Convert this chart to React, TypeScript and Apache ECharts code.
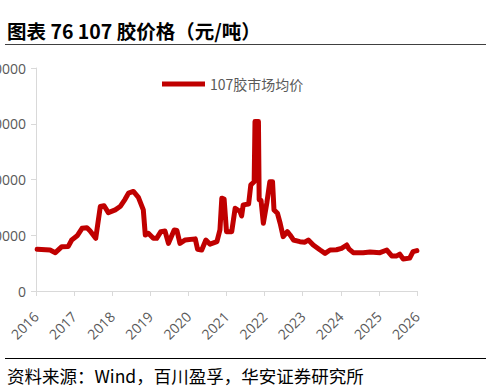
import React, { useEffect, useRef } from "react";
import * as echarts from "echarts";

const TITLE = "图表 76 107 胶价格（元/吨）";
const SOURCE = "资料来源：Wind，百川盈孚，华安证券研究所";
const SERIES_NAME = "107胶市场均价";

const yearTicks = [2016, 2017, 2018, 2019, 2020, 2021, 2022, 2023, 2024, 2025, 2026];

const dates = [
  "2016-01-12", "2016-05-15", "2016-07-05", "2016-09-05", "2016-11-06", "2016-12-09",
  "2017-01-30", "2017-03-18", "2017-05-04", "2017-06-02", "2017-07-27", "2017-09-09",
  "2017-10-15", "2017-11-25", "2018-01-30", "2018-03-18", "2018-05-04", "2018-06-06",
  "2018-07-23", "2018-09-09", "2018-10-26", "2018-11-14", "2018-12-13", "2019-01-30",
  "2019-03-03", "2019-04-12", "2019-05-22", "2019-06-24", "2019-08-18", "2019-09-13",
  "2019-10-12", "2019-12-02", "2020-03-07", "2020-03-29", "2020-05-08", "2020-06-17",
  "2020-07-27", "2020-10-01", "2020-10-30", "2020-11-17", "2020-12-09", "2021-01-01",
  "2021-02-20", "2021-03-25", "2021-05-11", "2021-05-26", "2021-06-10", "2021-08-01",
  "2021-08-22", "2021-09-23", "2021-10-01", "2021-11-03", "2021-11-10", "2021-11-28",
  "2021-12-20", "2022-01-22", "2022-02-20", "2022-03-18", "2022-04-01", "2022-05-04",
  "2022-05-30", "2022-06-28", "2022-08-07", "2022-09-02", "2022-10-04", "2022-12-05",
  "2023-01-22", "2023-02-24", "2023-04-12", "2023-06-17", "2023-08-03", "2023-09-20",
  "2023-11-21", "2024-01-08", "2024-02-27", "2024-03-21", "2024-04-30", "2024-08-03",
  "2024-10-08", "2025-01-11", "2025-03-18", "2025-05-04", "2025-06-21", "2025-07-20",
  "2025-08-22", "2025-10-23", "2025-11-24", "2025-12-31",
];

const prices = [
  15000, 14700, 13750, 15900, 16000, 18300,
  19800, 22500, 22700, 21600, 18900, 30300,
  30600, 28100, 29100, 30300, 32900, 35100,
  35700, 33600, 29100, 20100, 20700, 18900,
  18900, 21300, 21500, 17100, 21900, 21700,
  17100, 18300, 18700, 15000, 14700, 18300,
  16800, 17700, 21900, 33300, 33000, 21300,
  21300, 29700, 28500, 26900, 30900, 31200,
  38100, 39200, 60800, 60800, 32700, 32500,
  24300, 31500, 39200, 39200, 29100, 27900,
  24300, 19500, 21300, 20100, 18300, 17700,
  17500, 18300, 16500, 14700, 13500, 14700,
  14800, 15300, 16500, 15000, 13750, 13750,
  14000, 13750, 14700, 12600, 12600, 13200,
  11500, 11800, 14100, 14500,
];

const yMin = 0;
const yMax = 80000;
const yStep = 20000;

function toYear(d: string): number {
  const [y, m, day] = d.split("-").map(Number);
  const start = Date.UTC(y, 0, 1);
  const end = Date.UTC(y + 1, 0, 1);
  const t = Date.UTC(y, m - 1, day);
  return y + (t - start) / (end - start);
}

export default function App() {
  const ref = useRef<HTMLDivElement>(null);

  useEffect(() => {
    if (!ref.current) return;
    const chart = echarts.init(ref.current, null, { renderer: "svg" });
    const axisColor = "#d9d9d9";
    const labelColor = "#595959";
    chart.setOption({
      animation: false,
      backgroundColor: "#ffffff",
      grid: {
        left: 36,
        right: 78,
        top: 68,
        bottom: 98,
        containLabel: false,
        outerBoundsMode: "none",
      },
      legend: {
        data: [SERIES_NAME],
        left: 157,
        top: 72,
        icon: "rect",
        itemWidth: 43,
        itemHeight: 5,
        itemGap: 10,
        textStyle: { color: labelColor, fontSize: 14, fontFamily: "Noto Sans CJK SC" },
      },
      xAxis: {
        type: "value",
        min: yearTicks[0],
        max: yearTicks[yearTicks.length - 1],
        interval: 1,
        splitLine: { show: false },
        axisLine: { show: true, lineStyle: { color: axisColor, width: 1 } },
        axisTick: { show: true, length: 5, lineStyle: { color: axisColor } },
        axisLabel: {
          rotate: 45,
          margin: 23,
          color: labelColor,
          fontSize: 14,
          fontFamily: "Open Sans",
          formatter: (v: number) => String(Math.round(v)),
        },
      },
      yAxis: {
        type: "value",
        min: yMin,
        max: yMax,
        interval: yStep,
        splitLine: { show: false },
        axisLine: { show: true, lineStyle: { color: axisColor, width: 1 } },
        axisTick: { show: true, length: 5, lineStyle: { color: axisColor } },
        axisLabel: {
          margin: 10,
          color: labelColor,
          fontSize: 14,
          fontFamily: "Open Sans",
          formatter: (v: number) => String(v),
        },
      },
      series: [
        {
          name: SERIES_NAME,
          type: "line",
          symbol: "none",
          data: dates.map((d, i) => [toYear(d), prices[i]]),
          lineStyle: { color: "#C00000", width: 5, join: "round", cap: "round" },
          itemStyle: { color: "#C00000" },
        },
      ],
      graphic: [
        {
          type: "text",
          x: 7,
          y: 30,
          style: {
            text: TITLE,
            fill: "#000000",
            font: "bold 19.5px 'Noto Sans CJK SC'",
            verticalAlign: "middle",
          },
        },
        {
          type: "line",
          shape: { x1: 5, y1: 44.5, x2: 486, y2: 44.5 },
          style: { stroke: "#404040", lineWidth: 1.2 },
        },
        {
          type: "line",
          shape: { x1: 5, y1: 358.5, x2: 486, y2: 358.5 },
          style: { stroke: "#000000", lineWidth: 1 },
        },
        {
          type: "text",
          x: 7,
          y: 375,
          style: {
            text: SOURCE,
            fill: "#000000",
            font: "17.5px 'Noto Sans CJK SC'",
            verticalAlign: "middle",
          },
        },
      ],
    });
    return () => chart.dispose();
  }, []);

  return (
    <div
      ref={ref}
      style={{ position: "absolute", left: 0, top: 0, width: 495, height: 389, background: "#fff" }}
    />
  );
}
